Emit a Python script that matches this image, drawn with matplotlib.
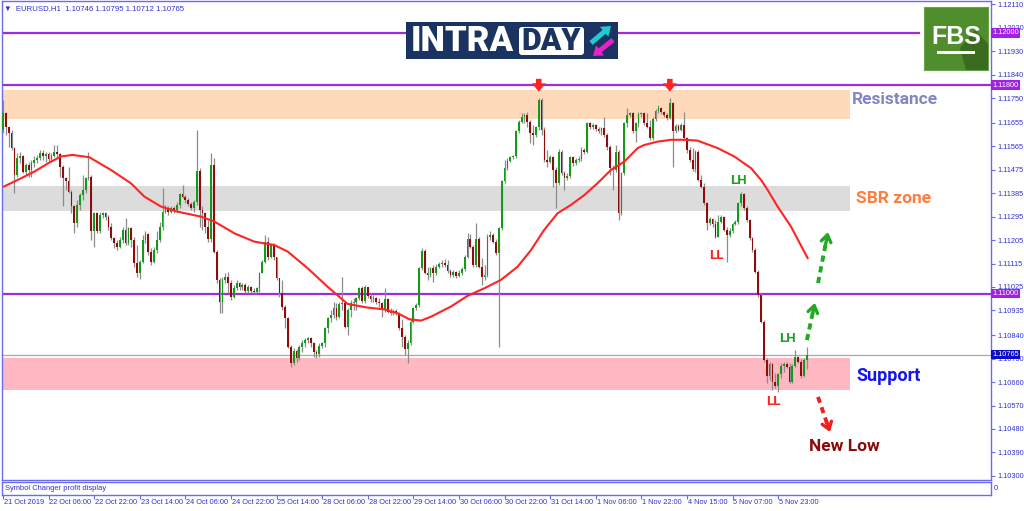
import matplotlib
matplotlib.use('Agg')
import matplotlib.pyplot as plt
from matplotlib.patches import Rectangle, FancyBboxPatch, Polygon, FancyArrow
import numpy as np

# EURUSD H1 candles, 21 Oct 2019 14:00 .. 6 Nov 2019
first_open = 1.11628
closes = [
    1.11692, 1.11641, 1.11615, 1.11558, 1.11455, 1.11519, 1.11528, 1.11468, 1.11494, 1.11474,
    1.11500, 1.11513, 1.11519, 1.11541, 1.11526, 1.11536, 1.11515, 1.11528, 1.11545, 1.11536,
    1.11487, 1.11442, 1.11430, 1.11391, 1.11334, 1.11270, 1.11340, 1.11378, 1.11398, 1.11442,
    1.11449, 1.11238, 1.11308, 1.11238, 1.11302, 1.11308, 1.11293, 1.11257, 1.11212, 1.11193,
    1.11180, 1.11206, 1.11244, 1.11193, 1.11250, 1.11206, 1.11116, 1.11078, 1.11122, 1.11206,
    1.11229, 1.11161, 1.11122, 1.11167, 1.11206, 1.11257, 1.11314, 1.11327, 1.11314, 1.11327,
    1.11321, 1.11340, 1.11382, 1.11372, 1.11357, 1.11344, 1.11327, 1.11353, 1.11472, 1.11321,
    1.11308, 1.11257, 1.11208, 1.11494, 1.11161, 1.11052, 1.10969, 1.11052, 1.11062, 1.11039,
    1.10988, 1.11020, 1.11042, 1.11024, 1.11033, 1.11011, 1.11024, 1.11011, 1.11007, 1.11020,
    1.11080, 1.11122, 1.11199, 1.11142, 1.11186, 1.11139, 1.11058, 1.11001, 1.10950, 1.10905,
    1.10796, 1.10732, 1.10781, 1.10751, 1.10796, 1.10809, 1.10822, 1.10828, 1.10809, 1.10777,
    1.10768, 1.10799, 1.10809, 1.10866, 1.10905, 1.10918, 1.10943, 1.10911, 1.10960, 1.10962,
    1.10873, 1.10937, 1.10962, 1.10969, 1.10982, 1.11020, 1.10973, 1.11024, 1.10991, 1.10978,
    1.10982, 1.10969, 1.10962, 1.10937, 1.10978, 1.10930, 1.10924, 1.10934, 1.10924, 1.10866,
    1.10834, 1.10786, 1.10809, 1.10892, 1.10943, 1.10956, 1.11097, 1.11165, 1.11080, 1.11071,
    1.11097, 1.11078, 1.11103, 1.11113, 1.11119, 1.11110, 1.11088, 1.11071, 1.11084, 1.11067,
    1.11080, 1.11093, 1.11142, 1.11208, 1.11180, 1.11110, 1.11208, 1.11103, 1.11065, 1.11071,
    1.11218, 1.11225, 1.11199, 1.11154, 1.11250, 1.11430, 1.11481, 1.11510, 1.11523, 1.11526,
    1.11622, 1.11657, 1.11677, 1.11686, 1.11660, 1.11615, 1.11609, 1.11638, 1.11743, 1.11628,
    1.11513, 1.11506, 1.11523, 1.11474, 1.11423, 1.11545, 1.11462, 1.11442, 1.11451, 1.11523,
    1.11500, 1.11513, 1.11518, 1.11551, 1.11545, 1.11654, 1.11641, 1.11647, 1.11631, 1.11622,
    1.11634, 1.11609, 1.11564, 1.11481, 1.11474, 1.11545, 1.11308, 1.11462, 1.11654, 1.11686,
    1.11692, 1.11622, 1.11654, 1.11689, 1.11692, 1.11654, 1.11641, 1.11596, 1.11669, 1.11702,
    1.11711, 1.11695, 1.11686, 1.11673, 1.11730, 1.11622, 1.11643, 1.11628, 1.11646, 1.11596,
    1.11551, 1.11513, 1.11477, 1.11545, 1.11436, 1.11408, 1.11346, 1.11272, 1.11285, 1.11267,
    1.11218, 1.11276, 1.11293, 1.11244, 1.11225, 1.11241, 1.11267, 1.11276, 1.11346, 1.11382,
    1.11327, 1.11282, 1.11212, 1.11167, 1.11084, 1.10994, 1.10892, 1.10745, 1.10683, 1.10729,
    1.10662, 1.10645, 1.10691, 1.10722, 1.10729, 1.10719, 1.10662, 1.10722, 1.10755, 1.10738,
    1.10683, 1.10746, 1.10765,
]
highs = [
    1.11741, 1.11698, 1.11634, 1.11628, 1.11564, 1.11538, 1.11545, 1.11532, 1.11500, 1.11506,
    1.11513, 1.11526, 1.11532, 1.11551, 1.11549, 1.11545, 1.11545, 1.11538, 1.11570, 1.11570,
    1.11538, 1.11494, 1.11449, 1.11487, 1.11398, 1.11340, 1.11359, 1.11385, 1.11455, 1.11449,
    1.11545, 1.11455, 1.11314, 1.11314, 1.11314, 1.11314, 1.11311, 1.11302, 1.11270, 1.11218,
    1.11206, 1.11218, 1.11257, 1.11289, 1.11257, 1.11257, 1.11218, 1.11186, 1.11129, 1.11225,
    1.11238, 1.11234, 1.11174, 1.11180, 1.11238, 1.11276, 1.11404, 1.11340, 1.11334, 1.11334,
    1.11334, 1.11353, 1.11385, 1.11417, 1.11378, 1.11366, 1.11353, 1.11359, 1.11628, 1.11481,
    1.11334, 1.11314, 1.11282, 1.11538, 1.11519, 1.11167, 1.11058, 1.11065, 1.11078, 1.11084,
    1.11052, 1.11033, 1.11052, 1.11046, 1.11039, 1.11039, 1.11033, 1.11029, 1.11020, 1.11026,
    1.11084, 1.11129, 1.11225, 1.11218, 1.11193, 1.11193, 1.11142, 1.11058, 1.11052, 1.10956,
    1.10911, 1.10802, 1.10790, 1.10786, 1.10802, 1.10822, 1.10828, 1.10834, 1.10834, 1.10815,
    1.10783, 1.10809, 1.10815, 1.10873, 1.10911, 1.10937, 1.10969, 1.10962, 1.10969, 1.11065,
    1.10969, 1.10943, 1.10975, 1.10982, 1.10988, 1.11026, 1.11029, 1.11033, 1.11026, 1.11001,
    1.10994, 1.10988, 1.10982, 1.10969, 1.11020, 1.10982, 1.10943, 1.10939, 1.10939, 1.10930,
    1.10901, 1.10841, 1.10822, 1.10905, 1.10950, 1.10965, 1.11103, 1.11174, 1.11170, 1.11103,
    1.11103, 1.11110, 1.11112, 1.11122, 1.11129, 1.11131, 1.11129, 1.11093, 1.11090, 1.11088,
    1.11090, 1.11103, 1.11148, 1.11231, 1.11229, 1.11186, 1.11270, 1.11216, 1.11135, 1.11110,
    1.11229, 1.11238, 1.11231, 1.11208, 1.11257, 1.11436, 1.11513, 1.11519, 1.11528, 1.11532,
    1.11628, 1.11666, 1.11692, 1.11692, 1.11695, 1.11666, 1.11647, 1.11643, 1.11750, 1.11750,
    1.11641, 1.11551, 1.11532, 1.11528, 1.11485, 1.11554, 1.11551, 1.11472, 1.11462, 1.11528,
    1.11526, 1.11519, 1.11526, 1.11564, 1.11558, 1.11660, 1.11660, 1.11654, 1.11651, 1.11638,
    1.11641, 1.11679, 1.11615, 1.11570, 1.11494, 1.11570, 1.11551, 1.11468, 1.11660, 1.11711,
    1.11698, 1.11695, 1.11660, 1.11695, 1.11698, 1.11698, 1.11692, 1.11666, 1.11677, 1.11707,
    1.11724, 1.11715, 1.11702, 1.11692, 1.11750, 1.11737, 1.11651, 1.11651, 1.11656, 1.11698,
    1.11600, 1.11564, 1.11558, 1.11551, 1.11549, 1.11455, 1.11423, 1.11353, 1.11293, 1.11289,
    1.11282, 1.11302, 1.11302, 1.11298, 1.11257, 1.11250, 1.11272, 1.11282, 1.11353, 1.11391,
    1.11385, 1.11334, 1.11285, 1.11218, 1.11174, 1.11090, 1.11001, 1.10898, 1.10751, 1.10738,
    1.10735, 1.10694, 1.10696, 1.10732, 1.10738, 1.10738, 1.10735, 1.10729, 1.10783, 1.10760,
    1.10747, 1.10752, 1.10795,
]
lows = [
    1.11615, 1.11609, 1.11564, 1.11551, 1.11385, 1.11449, 1.11500, 1.11462, 1.11455, 1.11449,
    1.11449, 1.11487, 1.11500, 1.11513, 1.11513, 1.11506, 1.11503, 1.11506, 1.11523, 1.11519,
    1.11449, 1.11334, 1.11398, 1.11385, 1.11308, 1.11231, 1.11257, 1.11321, 1.11359, 1.11385,
    1.11436, 1.11206, 1.11180, 1.11231, 1.11231, 1.11289, 1.11282, 1.11244, 1.11206, 1.11174,
    1.11167, 1.11174, 1.11193, 1.11186, 1.11186, 1.11180, 1.11103, 1.11065, 1.11055, 1.11116,
    1.11193, 1.11148, 1.11110, 1.11116, 1.11154, 1.11199, 1.11244, 1.11308, 1.11302, 1.11308,
    1.11308, 1.11314, 1.11327, 1.11366, 1.11346, 1.11334, 1.11321, 1.11314, 1.11340, 1.11257,
    1.11244, 1.11231, 1.11199, 1.11199, 1.11154, 1.11039, 1.10924, 1.10924, 1.11039, 1.11001,
    1.10975, 1.10982, 1.11014, 1.11014, 1.11014, 1.11001, 1.11003, 1.11001, 1.10998, 1.11001,
    1.11007, 1.11078, 1.11116, 1.11129, 1.11135, 1.11129, 1.11052, 1.10988, 1.10937, 1.10866,
    1.10790, 1.10719, 1.10726, 1.10738, 1.10745, 1.10777, 1.10796, 1.10809, 1.10796, 1.10758,
    1.10751, 1.10758, 1.10790, 1.10796, 1.10847, 1.10892, 1.10905, 1.10898, 1.10905, 1.10937,
    1.10866, 1.10841, 1.10911, 1.10937, 1.10937, 1.10975, 1.10965, 1.10965, 1.10982, 1.10969,
    1.10969, 1.10960, 1.10950, 1.10911, 1.10930, 1.10924, 1.10918, 1.10918, 1.10918, 1.10860,
    1.10796, 1.10764, 1.10732, 1.10802, 1.10886, 1.10937, 1.10950, 1.11090, 1.11075, 1.11052,
    1.11065, 1.11046, 1.11071, 1.11097, 1.11103, 1.11101, 1.11080, 1.11065, 1.11065, 1.11058,
    1.11062, 1.11071, 1.11088, 1.11135, 1.11174, 1.11103, 1.11103, 1.11097, 1.11033, 1.11052,
    1.11065, 1.11206, 1.11193, 1.11148, 1.10796, 1.11244, 1.11423, 1.11474, 1.11506, 1.11515,
    1.11519, 1.11615, 1.11654, 1.11654, 1.11641, 1.11577, 1.11570, 1.11602, 1.11628, 1.11609,
    1.11506, 1.11487, 1.11500, 1.11410, 1.11327, 1.11417, 1.11455, 1.11398, 1.11436, 1.11442,
    1.11490, 1.11494, 1.11503, 1.11510, 1.11536, 1.11538, 1.11631, 1.11631, 1.11625, 1.11615,
    1.11609, 1.11602, 1.11551, 1.11455, 1.11398, 1.11468, 1.11282, 1.11302, 1.11455, 1.11641,
    1.11677, 1.11615, 1.11583, 1.11641, 1.11679, 1.11647, 1.11634, 1.11590, 1.11590, 1.11664,
    1.11692, 1.11689, 1.11679, 1.11666, 1.11669, 1.11487, 1.11615, 1.11622, 1.11622, 1.11590,
    1.11541, 1.11506, 1.11472, 1.11468, 1.11430, 1.11404, 1.11340, 1.11244, 1.11263, 1.11257,
    1.11212, 1.11216, 1.11270, 1.11238, 1.11122, 1.11218, 1.11234, 1.11263, 1.11267, 1.11336,
    1.11321, 1.11276, 1.11206, 1.11161, 1.11078, 1.10988, 1.10886, 1.10738, 1.10655, 1.10668,
    1.10630, 1.10636, 1.10623, 1.10674, 1.10700, 1.10713, 1.10655, 1.10658, 1.10717, 1.10732,
    1.10674, 1.10681, 1.10712,
]

# moving average (red line), read at selected bars
ma_bar = [0.2, 6.3, 11, 16.8, 20.4, 24.4, 30.3, 37.9, 44.9, 49.6,
          55.4, 61.3, 69.5, 74.2, 81.2, 88.2, 95.2, 99.9, 106.9, 113.9,
          120.9, 127.9, 133.8, 138.5, 142.6, 146.7, 150.2, 157.2, 163.0, 168.9,
          174.7, 180.6, 185.3, 189.9, 194.6, 199.3, 204.0, 208.6, 213.3, 218.0,
          222.7, 225.0, 229.7, 234.4, 239.1, 243.7, 250.8, 256.6, 262.5, 266.0,
          268.3, 271.8, 276.5, 282.4]
ma_val = [1.11410, 1.11442, 1.11468, 1.11506, 1.11526, 1.11532, 1.11523, 1.11474, 1.11423, 1.11372,
          1.11334, 1.11314, 1.11295, 1.11276, 1.11231, 1.11199, 1.11186, 1.11161, 1.11097, 1.11026,
          1.10960, 1.10946, 1.10939, 1.10924, 1.10901, 1.10896, 1.10911, 1.10950, 1.10991, 1.11020,
          1.11052, 1.11103, 1.11167, 1.11244, 1.11308, 1.11340, 1.11378, 1.11423, 1.11474, 1.11506,
          1.11558, 1.11570, 1.11583, 1.11590, 1.11590, 1.11587, 1.11558, 1.11526, 1.11481, 1.11436,
          1.11398, 1.11334, 1.11257, 1.11135]

date_labels = ["21 Oct 2019", "22 Oct 06:00", "22 Oct 22:00", "23 Oct 14:00", "24 Oct 06:00",
               "24 Oct 22:00", "25 Oct 14:00", "28 Oct 06:00", "28 Oct 22:00", "29 Oct 14:00",
               "30 Oct 06:00", "30 Oct 22:00", "31 Oct 14:00", "1 Nov 06:00", "1 Nov 22:00",
               "4 Nov 15:00", "5 Nov 07:00", "5 Nov 23:00"]
date_bars = [16 * k for k in range(len(date_labels))]

price_ticks = [1.12110, 1.12020, 1.11930, 1.11840, 1.11750, 1.11655, 1.11565, 1.11475, 1.11385,
               1.11295, 1.11205, 1.11115, 1.11025, 1.10935, 1.10840, 1.10750, 1.10660, 1.10570,
               1.10480, 1.10390, 1.10300]
level_lines = [1.12000, 1.11800, 1.11000]
last_price = 1.10765

resistance = (1.11669, 1.11781)
sbr_zone = (1.11317, 1.11413)
support = (1.10630, 1.10752)

W, H = 1024, 511
LINE = '#6b6bf0'
TXT = '#3030d0'
SMALL = ['Liberation Sans Narrow', 'Liberation Sans', 'DejaVu Sans']
BOLD = ['Roboto', 'DejaVu Sans']
FS = 5.3

fig = plt.figure(figsize=(W / 100, H / 100), dpi=100)
fig.patch.set_facecolor('white')

ax = fig.add_axes([2 / W, 1 - 480 / H, 989 / W, 479 / H])
ax.set_xlim(-0.35, 346.7)
ax.set_ylim(1.102841, 1.121228)
for sp in ax.spines.values():
    sp.set_color(LINE)
    sp.set_linewidth(1.0)

# zones
zone_end = 297.2
for (lo, hi), col in [(resistance, '#fedabb'), (sbr_zone, '#dcdcdc'), (support, '#ffb7c2')]:
    ax.fill_between([-0.35, zone_end], lo, hi, color=col, lw=0, zorder=0)

# level lines
ax.hlines(level_lines[0], -0.35, 321.8, color='#9a2ee0', lw=1.6, zorder=1)
ax.hlines(level_lines[1:], -0.35, 346.7, color='#9a2ee0', lw=1.6, zorder=1)
ax.hlines(last_price, -0.35, 346.7, color='#a8a8a8', lw=0.9, zorder=1)

# candles
c = np.array(closes)
o = np.concatenate([[first_open], c[:-1]])
h = np.array(highs)
l = np.array(lows)
x = np.arange(len(c))
top = np.maximum(h, np.maximum(o, c))
bot = np.minimum(l, np.minimum(o, c))
ax.vlines(x, bot, top, color='#8c8c8c', lw=0.9, zorder=3)
body = c - o
body = np.where(np.abs(body) < 0.00003, 0.00003, body)
up = c >= o
ax.bar(x[up], body[up], bottom=o[up], width=0.62, color='#149a18', lw=0, zorder=4)
ax.bar(x[~up], body[~up], bottom=o[~up], width=0.62, color='#8e0c0c', lw=0, zorder=4)

# moving average
ax.plot(ma_bar, ma_val, color='#ff2424', lw=1.5, zorder=5, solid_capstyle='round')

# price axis
ax.yaxis.tick_right()
ax.set_yticks(price_ticks)
ax.set_yticklabels([f'{t:.5f}' for t in price_ticks])
ax.tick_params(axis='y', length=3, width=0.8, color=LINE, labelsize=FS, labelcolor=TXT, pad=1.5)
for lab in ax.get_yticklabels():
    lab.set_family(SMALL)
ax.set_xticks([])

ytr = ax.get_yaxis_transform()
for lv in level_lines:
    ax.text(1.0012, lv, f'{lv:.5f}', transform=ytr, va='center', ha='left', color='white',
            fontsize=FS, family=SMALL, clip_on=False, zorder=10,
            bbox=dict(boxstyle='square,pad=0.15', fc='#a020e6', ec='none'))
ax.text(1.0012, last_price, f'{last_price:.5f}', transform=ytr, va='center', ha='left', color='white',
        fontsize=FS, family=SMALL, clip_on=False, zorder=10,
        bbox=dict(boxstyle='square,pad=0.15', fc='#0a0ac8', ec='none'))

# header
ax.text(0.002, 0.992, '\u25bc  EURUSD,H1  1.10746 1.10795 1.10712 1.10765', transform=ax.transAxes,
        va='top', ha='left', fontsize=5.6, color=TXT, family=SMALL, zorder=10)

# zone labels and swing marks
ax.text(297.9, 1.11743, 'Resistance', color='#8585c6', fontsize=12.5, fontweight='bold',
        va='center', ha='left', family=BOLD, zorder=8)
ax.text(299.3, 1.11363, 'SBR zone', color='#ff7c3b', fontsize=12.5, fontweight='bold',
        va='center', ha='left', family=BOLD, zorder=8)
ax.text(299.3, 1.10683, 'Support', color='#1414f0', fontsize=13, fontweight='bold',
        va='center', ha='left', family=BOLD, zorder=8)
ax.text(282.8, 1.10411, 'New Low', color='#8a0a0a', fontsize=12.5, fontweight='bold',
        va='center', ha='left', family=BOLD, zorder=8)
for bx, py, s, col in [(257.9, 1.11432, 'LH', '#1f9e22'), (250.5, 1.11144, 'LL', '#ff2020'),
                       (275.4, 1.10829, 'LH', '#1f9e22'), (270.2, 1.10587, 'LL', '#ff2020')]:
    ax.text(bx, py, s, color=col, fontsize=9.5, fontweight='bold', va='center', ha='center',
            family=BOLD, zorder=8)

# red top markers over the two highs
for bx in [188, 234]:
    ax.annotate('', xy=(bx, 1.11775), xytext=(bx, 1.11824),
                arrowprops=dict(arrowstyle='simple,head_width=1.0,head_length=0.6,tail_width=0.4',
                                fc='#ff2222', ec='none', shrinkA=0, shrinkB=0), zorder=9)

# dashed projection arrows
def dashed_arrow(x0, y0, x1, y1, col):
    ax.plot([x0, x0 + 0.85 * (x1 - x0)], [y0, y0 + 0.85 * (y1 - y0)], color=col, lw=2.8,
            ls=(0, (1.6, 1.2)), zorder=9, solid_capstyle='butt')
    ax.annotate('', xy=(x1, y1), xytext=(x0 + 0.7 * (x1 - x0), y0 + 0.7 * (y1 - y0)),
                arrowprops=dict(arrowstyle='->,head_length=0.5,head_width=0.35', color=col,
                                lw=2.4, shrinkA=0, shrinkB=0), zorder=9)

dashed_arrow(282.1, 1.10821, 284.9, 1.10964, '#22aa22')
dashed_arrow(286.0, 1.11040, 289.5, 1.11236, '#22aa22')
dashed_arrow(286.0, 1.10603, 290.2, 1.10468, '#ee2020')

# indicator sub-window with the time axis
sub = fig.add_axes([2 / W, 1 - 495 / H, 989 / W, 13 / H])
sub.set_xlim(-0.35, 346.7)
sub.set_ylim(0, 1)
for sp in sub.spines.values():
    sp.set_color(LINE)
    sp.set_linewidth(1.0)
sub.set_yticks([])
sub.set_xticks(date_bars)
sub.set_xticklabels([])
sub.tick_params(axis='x', length=3, width=0.8, color=LINE)
sub.text(0.003, 0.5, 'Symbol Changer profit display', transform=sub.transAxes, va='center',
         ha='left', fontsize=5.4, color=TXT, family=SMALL)
sub.text(1.003, 0.5, '0', transform=sub.transAxes, va='center', ha='left', fontsize=5.4,
         color=TXT, family=SMALL)
xtr = sub.get_xaxis_transform()
for bx, s in zip(date_bars, date_labels):
    sub.text(bx + 0.3, -0.3, s, transform=xtr, va='top', ha='left', fontsize=5.3, color=TXT,
             family=SMALL, clip_on=False)

# logos drawn in pixel space
ov = fig.add_axes([0, 0, 1, 1], zorder=20)
ov.set_xlim(0, W)
ov.set_ylim(H, 0)
ov.axis('off')
ov.patch.set_alpha(0)

ov.add_patch(Rectangle((406, 22), 212, 37, fc='#1a3360', ec='none'))
ov.text(411, 41.5, 'INTRA', color='white', fontsize=25, fontweight='heavy', family=BOLD,
        va='center', ha='left')
ov.add_patch(FancyBboxPatch((519, 27), 65, 28, boxstyle='round,pad=0,rounding_size=3',
                            fc='white', ec='none'))
ov.text(551.5, 41.5, 'DAY', color='#1a3360', fontsize=22, fontweight='heavy', family=BOLD,
        va='center', ha='center')
ov.add_patch(FancyArrow(591, 43, 20, -17, width=5, head_width=13, head_length=9,
                        length_includes_head=True, fc='#1fcbd2', ec='none'))
ov.add_patch(FancyArrow(613, 40, -20, 16, width=5, head_width=13, head_length=9,
                        length_includes_head=True, fc='#e622c8', ec='none'))

ov.add_patch(Rectangle((924, 7), 64, 63, fc='#4f8d2d', ec='#6aa046', lw=0.8))
ov.add_patch(Polygon([(960, 48), (975, 30), (988, 44), (988, 70), (966, 70)],
                     closed=True, fc='#3a6b1f', ec='none'))
ov.text(956, 37, 'FBS', color='white', fontsize=18, fontweight='bold', family=SMALL,
        va='center', ha='center')
ov.add_patch(Rectangle((937, 51), 38, 3, fc='white', ec='none'))

fig.savefig('out.png', dpi=100)
